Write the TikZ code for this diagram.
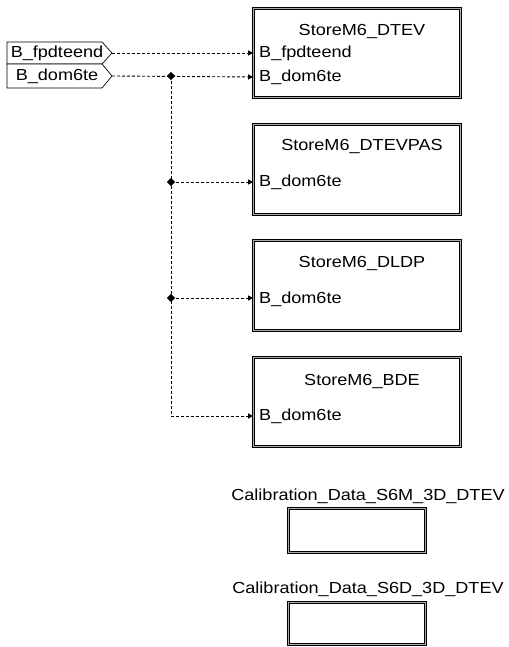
\documentclass[tikz,border=0pt]{standalone}
\usepackage{fontspec}
\setmainfont[FakeStretch=1.13]{Liberation Sans}
\usetikzlibrary{arrows.meta,shapes.geometric}
\begin{document}
\begin{tikzpicture}[x=1pt,y=-1pt,
  txt/.style={inner sep=0pt,font=\fontsize{16}{18}\selectfont},
  sbox/.style={draw=black,line width=0.7pt,double=gray!65,double distance=1.4pt,
    inner sep=0pt,minimum width=#1},
  sbox/.default=207,
  port/.style={draw=black,line width=0.7pt,fill=white},
  sig/.style={dash pattern=on 3pt off 2pt,line width=0.9pt},
  sigarrow/.style={sig,-{Triangle[length=5pt,width=5pt]}},
  dot/.style={diamond,fill=black,inner sep=0pt,minimum size=8.5pt}
]
\useasboundingbox (0,0) rectangle (508,647);

% subsystem boxes
\node[sbox,minimum height=89.2] (b1) at (357,53) {};
\node[sbox,minimum height=90.2] (b2) at (357,169.5) {};
\node[sbox,minimum height=90.2] (b3) at (357,285.5) {};
\node[sbox,minimum height=89.2] (b4) at (357,402) {};

\node[txt] (b1t) at (362,32) {StoreM6\_DTEV};
\node[txt,anchor=west] (b1i1) at (259,53) {B\_fpdteend};
\node[txt,anchor=west] (b1i2) at (259,77) {B\_dom6te};

\node[txt] (b2t) at (362,147) {StoreM6\_DTEVPAS};
\node[txt,anchor=west] (b2i) at (259,182) {B\_dom6te};

\node[txt] (b3t) at (362,264) {StoreM6\_DLDP};
\node[txt,anchor=west] (b3i) at (259,299) {B\_dom6te};

\node[txt] (b4t) at (362,382) {StoreM6\_BDE};
\node[txt,anchor=west] (b4i) at (259,416) {B\_dom6te};

% calibration boxes
\node[txt] (c1t) at (368,496) {Calibration\_Data\_S6M\_3D\_DTEV};
\node[sbox=137.2,minimum height=44.2] (c1) at (357,530.5) {};
\node[txt] (c2t) at (368,589) {Calibration\_Data\_S6D\_3D\_DTEV};
\node[sbox=137.2,minimum height=42.2] (c2) at (357,623.5) {};

% input ports
\draw[port] (7,42) -- (102,42) -- (112,53) -- (102,64) -- (7,64) -- cycle;
\draw[port] (7,64) -- (102,64) -- (112,76) -- (102,88) -- (7,88) -- cycle;
\coordinate (p1) at (112,53);
\coordinate (p2) at (112,76);
\node[txt] (p1t) at (57,53) {B\_fpdteend};
\node[txt] (p2t) at (57,76) {B\_dom6te};

% junctions
\coordinate (j1) at (171,76);
\coordinate (j2) at (171,182);
\coordinate (j3) at (171,298);
\coordinate (j4) at (171,416);

% connectors
\draw[sigarrow] (p1) -- (b1.west |- b1i1);
\draw[sigarrow] (p2) -- (b1.west |- b1i2);
\draw[sig] (j1) -- (j4);
\draw[sigarrow] (j2) -- (b2.west |- j2);
\draw[sigarrow] (j3) -- (b3.west |- j3);
\draw[sigarrow] (j4) -- (b4.west |- j4);

\node[dot] (d1) at (j1) {};
\node[dot] (d2) at (j2) {};
\node[dot] (d3) at (j3) {};
\end{tikzpicture}
\end{document}
